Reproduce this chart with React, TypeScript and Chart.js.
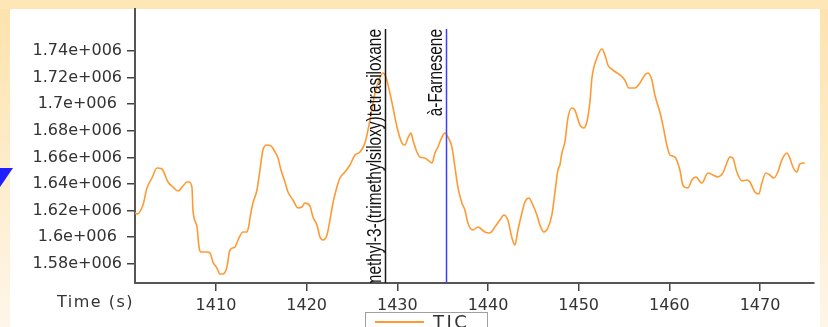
import React, { useEffect, useRef } from "react";
import { Chart, registerables } from "chart.js";

Chart.register(...registerables);

const timeSec = [
  1401.07, 1401.29, 1401.95, 1402.39, 1402.94, 1403.5, 1404.05, 1404.38, 1404.71, 1405.26,
  1405.81, 1406.36, 1406.8, 1407.02, 1407.35, 1407.46, 1407.91, 1408.13, 1408.35, 1409.01,
  1409.34, 1409.67, 1410.11, 1410.44, 1410.77, 1411.21, 1411.54, 1412.1, 1412.43, 1412.98,
  1413.42, 1413.64, 1413.75, 1414.08, 1414.52, 1414.85, 1415.18, 1415.62, 1416.06, 1416.51,
  1416.84, 1417.17, 1417.61, 1417.94, 1418.49, 1419.04, 1419.48, 1419.81, 1420.36, 1420.69,
  1421.14, 1421.47, 1421.8, 1422.24, 1422.57, 1422.9, 1423.34, 1423.67, 1424.22, 1424.77,
  1425.33, 1425.88, 1426.43, 1426.98, 1427.53, 1428.08, 1428.41, 1428.74, 1429.18, 1429.51,
  1429.96, 1430.51, 1430.84, 1431.17, 1431.5, 1431.72, 1432.16, 1432.49, 1433.04, 1433.37,
  1433.82, 1434.15, 1434.48, 1434.92, 1435.25, 1435.58, 1436.02, 1436.35, 1436.68, 1437.12,
  1437.45, 1437.78, 1438.34, 1438.89, 1439.11, 1439.66, 1440.21, 1440.76, 1441.31, 1441.75,
  1442.19, 1442.64, 1442.97, 1443.3, 1443.74, 1444.07, 1444.51, 1444.95, 1445.39, 1445.72,
  1446.16, 1446.6, 1447.04, 1447.37, 1447.71, 1447.93, 1448.15, 1448.48, 1448.81, 1449.25,
  1449.58, 1450.13, 1450.57, 1450.9, 1451.24, 1451.46, 1452.01, 1452.56, 1452.89, 1453.22,
  1453.77, 1454.54, 1455.09, 1455.53, 1456.2, 1456.75, 1457.3, 1457.63, 1458.07, 1458.4,
  1458.95, 1459.28, 1459.72, 1460.05, 1460.6, 1461.16, 1461.49, 1462.04, 1462.48, 1462.92,
  1463.58, 1464.25, 1464.8, 1465.35, 1465.9, 1466.34, 1466.67, 1467.0, 1467.44, 1468.0,
  1468.55, 1468.88, 1469.43, 1469.87, 1470.2, 1470.64, 1471.08, 1471.52, 1471.96, 1472.4,
  1472.95, 1473.29, 1473.62, 1474.06, 1474.39, 1474.94,
];

const ticValues = [
  1618200, 1617400, 1624200, 1637000, 1644500, 1652000, 1651300, 1646800, 1641500, 1637700,
  1634700, 1638500, 1641500, 1641500, 1637700, 1620400, 1607700, 1592600, 1588900, 1588900,
  1588100, 1581300, 1576800, 1572300, 1572300, 1577600, 1590400, 1592600, 1597900, 1603900,
  1603900, 1609200, 1614400, 1625700, 1635500, 1650500, 1665600, 1669300, 1668600, 1664100,
  1659500, 1650500, 1641500, 1634000, 1628000, 1622000, 1622700, 1625700, 1623500, 1615200,
  1609200, 1600100, 1597900, 1601600, 1612900, 1625700, 1637700, 1644500, 1649000, 1654300,
  1661800, 1664100, 1670800, 1688100, 1708400, 1719700, 1723500, 1720500, 1708400, 1697900,
  1682900, 1670800, 1669300, 1674600, 1678300, 1673100, 1664100, 1660300, 1659500, 1658000,
  1655800, 1663300, 1667800, 1675300, 1678300, 1675300, 1667800, 1652800, 1637700, 1625700,
  1620400, 1610700, 1605400, 1607700, 1606900, 1603900, 1603200, 1607700, 1612900, 1616700,
  1612900, 1599400, 1594100, 1605400, 1618200, 1626500, 1629500, 1624200, 1616700, 1609200,
  1603900, 1606900, 1616700, 1633200, 1650500, 1654300, 1663300, 1671600, 1689600, 1697100,
  1695600, 1684400, 1682100, 1686600, 1701700, 1719700, 1734700, 1741500, 1737000, 1729500,
  1725700, 1722000, 1718200, 1712200, 1712200, 1715900, 1722000, 1723500, 1718200, 1706900,
  1694100, 1684400, 1669300, 1661800, 1660300, 1650500, 1639200, 1637000, 1643000, 1645300,
  1640700, 1648300, 1646800, 1645300, 1648300, 1655800, 1660300, 1659500, 1649000, 1642300,
  1643000, 1641500, 1634000, 1632500, 1640700, 1648300, 1646800, 1644500, 1649000, 1658000,
  1663300, 1659500, 1652800, 1649000, 1655000, 1655800,
];

const xTicks = [1410, 1420, 1430, 1440, 1450, 1460, 1470];
const yTicks = [1580000, 1600000, 1620000, 1640000, 1660000, 1680000, 1700000, 1720000, 1740000];
const xMin = 1401.07;
const xMax = 1475.95;
const yMin = 1565560;
const yMax = 1771580;

const markerTimes = [1428.6, 1435.4];
const markerLabels = ["1,1,1,5,7,7,7-Heptamethyl-3-(trimethylsiloxy)tetrasiloxane", "à-Farnesene"];
const markerColors = ["#1a1a1a", "#3d3dff"];

const xAxisTitle = "Time (s)";
const seriesName = "TIC";
const seriesColor = "#ff9a33";

function formatSci(v: number): string {
  const m = v / 1e6;
  return `${parseFloat(m.toFixed(2))}e+006`;
}

const backgroundPlugin = {
  id: "slideBackground",
  beforeDraw(chart: any) {
    const { ctx, width, height } = chart;
    ctx.save();
    const g = ctx.createLinearGradient(0, 0, 0, height);
    g.addColorStop(0, "#fde2ab");
    g.addColorStop(1, "#fef6e9");
    ctx.fillStyle = g;
    ctx.fillRect(0, 0, width, height);
    ctx.fillStyle = "#fee6b6";
    ctx.fillRect(0, 0, width, 9);
    ctx.fillStyle = "#ffffff";
    ctx.fillRect(10, 9, 810, height - 9);
    ctx.fillStyle = "#1f1fff";
    ctx.beginPath();
    ctx.moveTo(0, 168);
    ctx.lineTo(13, 168);
    ctx.lineTo(0, 187);
    ctx.closePath();
    ctx.fill();
    ctx.restore();
  },
};

const markersPlugin = {
  id: "markers",
  afterDatasetsDraw(chart: any) {
    const { ctx, chartArea, scales } = chart;
    const top = chartArea.top + 20;
    markerTimes.forEach((t, i) => {
      const x = Math.round(scales.x.getPixelForValue(t)) + 0.5;
      ctx.save();
      ctx.strokeStyle = markerColors[i];
      ctx.lineWidth = 1.5;
      ctx.beginPath();
      ctx.moveTo(x, top);
      ctx.lineTo(x, chartArea.bottom);
      ctx.stroke();
      ctx.beginPath();
      ctx.rect(chartArea.left, chartArea.top, chartArea.right - chartArea.left, chartArea.bottom - chartArea.top);
      ctx.clip();
      ctx.translate(x - 5, top);
      ctx.rotate(-Math.PI / 2);
      ctx.scale(0.77, 1);
      ctx.font = "20px 'Liberation Sans', Arial, sans-serif";
      ctx.fillStyle = "#111111";
      ctx.textAlign = "right";
      ctx.textBaseline = "alphabetic";
      ctx.fillText(markerLabels[i], 0, 0);
      ctx.restore();
    });
  },
};

const annotationsPlugin = {
  id: "extraText",
  afterDraw(chart: any) {
    const { ctx, chartArea } = chart;
    ctx.save();
    ctx.font = "16px 'DejaVu Sans', sans-serif";
    ctx.fillStyle = "#333333";
    (ctx as any).letterSpacing = "1.5px";
    ctx.textAlign = "right";
    ctx.textBaseline = "middle";
    ctx.fillText(xAxisTitle, chartArea.left - 1, 303);
    (ctx as any).letterSpacing = "0px";
    ctx.fillStyle = "#ffffff";
    ctx.fillRect(365.5, 312.5, 122, 20);
    ctx.strokeStyle = "#a0a0a0";
    ctx.lineWidth = 1;
    ctx.strokeRect(365.5, 312.5, 122, 20);
    ctx.strokeStyle = seriesColor;
    ctx.lineWidth = 2;
    ctx.beginPath();
    ctx.moveTo(375, 322);
    ctx.lineTo(424, 322);
    ctx.stroke();
    ctx.font = "18px 'DejaVu Sans', sans-serif";
    (ctx as any).letterSpacing = "2.5px";
    ctx.fillStyle = "#333333";
    ctx.textAlign = "left";
    ctx.textBaseline = "top";
    ctx.fillText(seriesName, 433, 314);
    ctx.restore();
  },
};

export default function App() {
  const ref = useRef<HTMLCanvasElement | null>(null);

  useEffect(() => {
    if (!ref.current) return;
    const points = timeSec.map((t, i) => ({ x: t, y: ticValues[i] }));
    const chart = new Chart(ref.current, {
      type: "line",
      data: {
        datasets: [
          {
            label: seriesName,
            data: points,
            borderColor: seriesColor,
            borderWidth: 1.6,
            pointRadius: 0,
            fill: false,
            cubicInterpolationMode: "monotone",
          },
        ],
      },
      options: {
        responsive: false,
        animation: false,
        layout: { padding: { top: 9, right: 14, left: 0, bottom: 0 } },
        plugins: { legend: { display: false }, tooltip: { enabled: false } },
        scales: {
          x: {
            type: "linear",
            min: xMin,
            max: xMax,
            afterBuildTicks: (scale: any) => {
              scale.ticks = xTicks.map((v) => ({ value: v }));
            },
            afterFit: (scale: any) => {
              scale.height = 44;
              scale.paddingLeft = 0;
              scale.paddingRight = 0;
              scale.paddingTop = 0;
              scale.paddingBottom = 0;
            },
            border: { display: true, color: "#555555", width: 2 },
            grid: { display: true, drawOnChartArea: false, drawTicks: true, tickLength: 8, color: "#444444", lineWidth: 1.5 },
            ticks: {
              color: "#333333",
              font: { family: "'DejaVu Sans', sans-serif", size: 16 },
              padding: 5,
              maxRotation: 0,
              autoSkip: false,
              callback: (v: any) => String(v),
            },
          },
          y: {
            type: "linear",
            min: yMin,
            max: yMax,
            afterBuildTicks: (scale: any) => {
              scale.ticks = yTicks.map((v) => ({ value: v }));
            },
            afterFit: (scale: any) => {
              scale.width = 135;
              scale.paddingLeft = 0;
              scale.paddingRight = 0;
              scale.paddingTop = 0;
              scale.paddingBottom = 0;
            },
            border: { display: true, color: "#555555", width: 2 },
            grid: { display: true, drawOnChartArea: false, drawTicks: true, tickLength: 8, color: "#444444", lineWidth: 1.5 },
            ticks: {
              color: "#333333",
              font: { family: "'DejaVu Sans', sans-serif", size: 16 },
              padding: 5,
              crossAlign: "center",
              autoSkip: false,
              callback: (v: any) => formatSci(Number(v)),
            },
          },
        },
      } as any,
      plugins: [backgroundPlugin, markersPlugin, annotationsPlugin],
    });
    return () => chart.destroy();
  }, []);

  return (
    <canvas
      ref={ref}
      width={828}
      height={327}
      style={{ position: "fixed", left: 0, top: 0, width: 828, height: 327, display: "block" }}
    />
  );
}
